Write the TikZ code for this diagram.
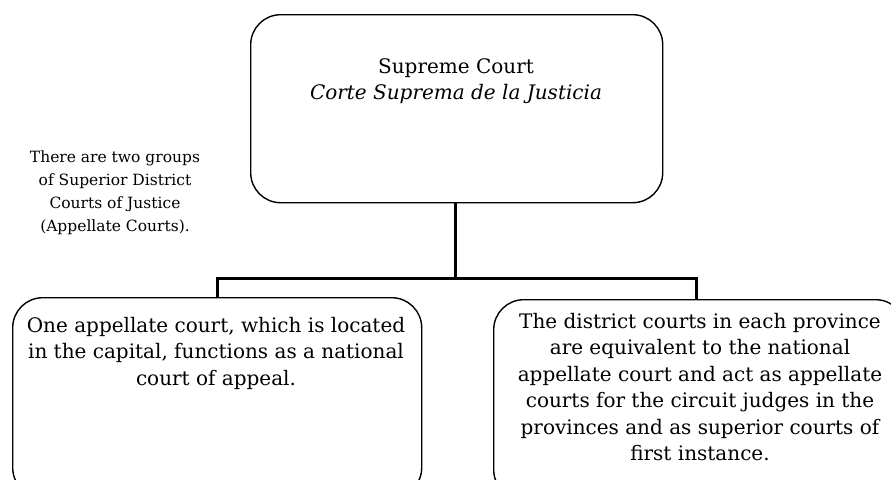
\documentclass[tikz,border=0pt]{standalone}
\usepackage{fontspec}
\setmainfont{DejaVu Serif}
\usepackage{tikz}
\usetikzlibrary{positioning}

\begin{document}
\begin{tikzpicture}[x=1pt,y=-1pt,
	court/.style={draw,line width=1.4pt,rounded corners=30pt,anchor=north west},
	words/.style={align=center,inner sep=0pt,font=\fontsize{20}{26.5}\selectfont},
	link/.style={line width=3pt}]
	\clip (0,0) rectangle (891,479);
	\node[court,minimum width=412pt,minimum height=188pt] (sup) at (250,14) {};
	\node[words,anchor=north] (suptext) at (456,58) {Supreme Court\\\textit{Corte Suprema de la Justicia}};
	\node[align=center,inner sep=0pt,font=\fontsize{15.5}{23}\selectfont,anchor=north] (note) at (115,151)
		{There are two groups\\of Superior District\\Courts of Justice\\(Appellate Courts).};
	\node[court,minimum width=409pt,minimum height=200pt] (capital) at (12,297) {};
	\node[words,anchor=north] (capitaltext) at (216,317)
		{One appellate court, which is located\\in the capital, functions as a national\\court of appeal.};
	\node[court,minimum width=412pt,minimum height=200pt] (province) at (493,299) {};
	\node[words,anchor=north] (provincetext) at (700,313)
		{The district courts in each province\\are equivalent to the national\\appellate court and act as appellate\\courts for the circuit judges in the\\provinces and as superior courts of\\first instance.};
	\coordinate (split) at (455,278);
	\draw[link] (sup.south -| split) -- (split);
	\draw[link] (split) -| (capital.north);
	\draw[link] (split) -| ([xshift=-3pt]province.north);
\end{tikzpicture}
\end{document}
